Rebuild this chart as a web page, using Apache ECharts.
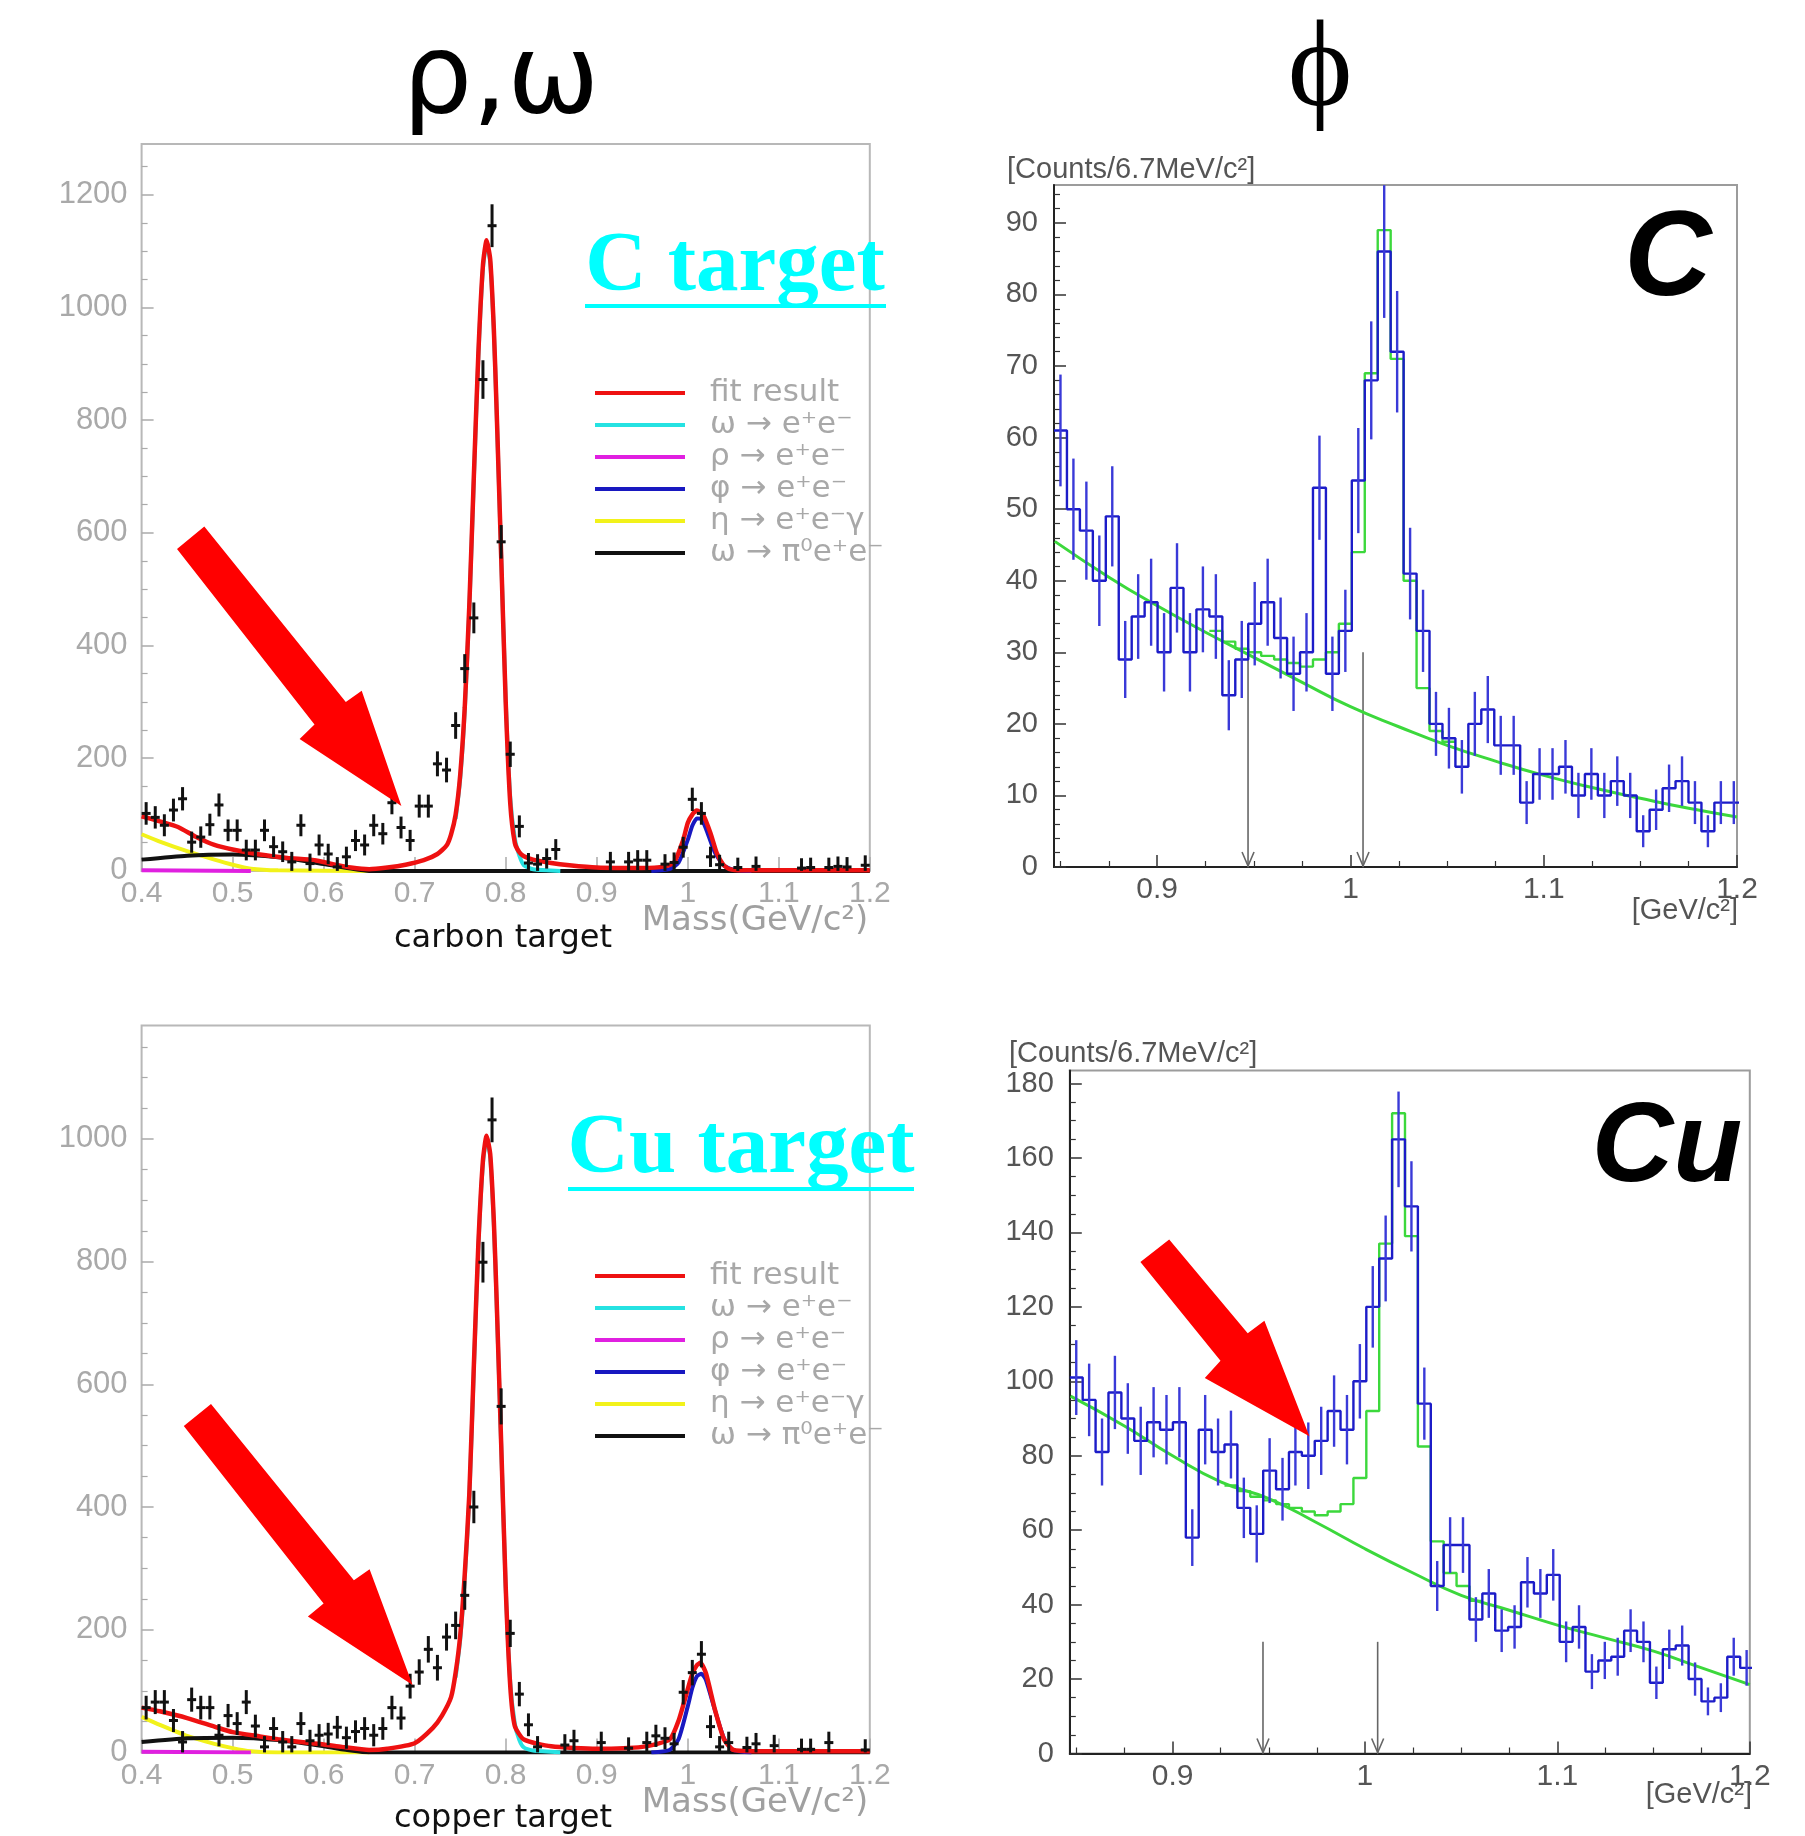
<!DOCTYPE html>
<html><head><meta charset="utf-8">
<script src="https://cdn.jsdelivr.net/npm/echarts@6/dist/echarts.min.js"></script>
<style>html,body{margin:0;padding:0;background:#fff}#c{width:1805px;height:1836px}</style>
</head><body><div id="c"></div><script>
// ---------------- DATA ----------------
// Left panels: dilepton mass points (GeV/c^2) and counts
const cMass = [0.405,0.415,0.425,0.435,0.445,0.455,0.465,0.475,0.485,0.495,0.505,0.515,0.525,0.535,0.545,0.555,0.565,0.575,0.585,0.595,0.605,0.615,0.625,0.635,0.645,0.655,0.665,0.675,0.685,0.695,0.705,0.715,0.725,0.735,0.745,0.755,0.765,0.775,0.785,0.795,0.805,0.815,0.825,0.835,0.845,0.855,
  0.915,0.935,0.945,0.955,0.975,0.985,0.995,1.005,1.015,1.025,1.035,1.055,1.075,1.125,1.135,1.155,1.165,1.175,1.195];
const cCounts = [102,95,81,108,128,51,60,82,117,72,72,37,37,72,43,34,16,81,13,46,30,7,25,54,46,81,66,121,77,54,115,115,190,179,258,359,449,872,1145,584,207,79,14,12,22,38,
  16,16,19,19,12,15,42,127,102,25,11,6,8,5,6,6,8,7,10];
const cuMass = [0.405,0.415,0.425,0.435,0.445,0.455,0.465,0.475,0.485,0.495,0.505,0.515,0.525,0.535,0.545,0.555,0.565,0.575,0.585,0.595,0.605,0.615,0.625,0.635,0.645,0.655,0.665,0.675,0.685,0.695,0.705,0.715,0.725,0.735,0.745,0.755,0.765,0.775,0.785,0.795,0.805,0.815,0.825,0.835,
  0.865,0.875,0.905,0.935,0.955,0.965,0.975,0.985,0.995,1.005,1.015,1.025,1.035,1.045,1.065,1.075,1.095,1.125,1.135,1.155,1.195];
const cuCounts = [73,82,82,52,17,86,73,73,28,60,47,82,43,9,39,17,9,47,19,28,30,41,24,34,39,28,39,73,56,108,131,168,138,188,207,256,400,799,1031,564,194,95,45,9,
  12,19,16,7,16,27,23,14,98,130,160,42,9,16,8,14,11,5,5,16,4];

// Left panels: fit curves (carbon)
const cFitX = [0.40,0.42,0.44,0.46,0.48,0.50,0.53,0.56,0.59,0.61,0.63,0.65,0.67,0.69,0.71,0.725,0.735,0.74,0.745,0.75,0.755,0.76,0.765,0.77,0.775,0.779,0.783,0.787,0.79,0.795,0.80,0.805,0.81,0.815,0.82,0.83,0.85,0.87,0.90,0.95,0.975,0.985,0.995,1.0,1.005,1.01,1.017,1.025,1.032,1.039,1.046,1.06,1.2];
const cFitY = [97,88,78,60,46,38,29,23,19,12,6,3,6,11,19,30,45,65,100,170,290,470,700,920,1075,1119,1085,960,820,560,300,120,50,33,26,20,14,10,6,5,8,15,55,85,100,107,99,67,31,11,3,1,1];
const cOmegaX = [0.745,0.75,0.755,0.76,0.765,0.77,0.775,0.779,0.783,0.787,0.79,0.795,0.80,0.805,0.81,0.815,0.82,0.83,0.86];
const cOmegaY = [92,163,284,464,694,914,1069,1113,1080,957,818,560,305,130,58,27,10,3,0];
const cRhoX = [0.40,0.52];
const cRhoY = [1,0];
const cPhiX = [0.96,0.98,0.99,1.0,1.005,1.01,1.015,1.02,1.03,1.04,1.05,1.07];
const cPhiY = [0,3,15,55,80,93,92,75,32,9,2,0];
const cEtaX = [0.40,0.42,0.45,0.48,0.50,0.52,0.55,0.65];
const cEtaY = [65,52,35,20,11,4,1,0];
const cDalitzX = [0.40,0.45,0.50,0.55,0.60,0.63,0.65,1.2];
const cDalitzY = [20,27,29,24,12,4,0,0];

// Left panels: fit curves (copper)
const cuFitX = [0.40,0.42,0.45,0.48,0.50,0.53,0.55,0.58,0.60,0.62,0.65,0.67,0.70,0.72,0.73,0.74,0.745,0.75,0.755,0.76,0.765,0.77,0.775,0.779,0.783,0.787,0.79,0.795,0.80,0.805,0.81,0.82,0.85,0.90,0.95,0.98,0.99,1.0,1.005,1.01,1.014,1.02,1.03,1.04,1.05,1.07,1.2];
const cuFitY = [73,67,56,42,33,26,21.5,16,13,9,4,6,15,40,60,90,130,190,290,420,630,830,965,1005,975,865,740,505,270,108,43,21,10,6,9,21,52,103,128,142,146,129,69,21,4,2,2];
const cuOmegaX = [0.745,0.75,0.755,0.76,0.765,0.77,0.775,0.779,0.783,0.787,0.79,0.795,0.80,0.805,0.81,0.815,0.82,0.83,0.86];
const cuOmegaY = [122,183,283,414,624,824,960,1000,970,860,735,502,270,114,47,20,8,3,0];
const cuRhoX = [0.40,0.52];
const cuRhoY = [1,0];
const cuPhiX = [0.96,0.98,0.99,1.0,1.005,1.01,1.015,1.02,1.03,1.04,1.05,1.07];
const cuPhiY = [0,4,22,75,105,124,128,118,68,22,4,0];
const cuEtaX = [0.40,0.42,0.45,0.48,0.50,0.52,0.55,0.65];
const cuEtaY = [58,45,27,14,7,2,0,0];
const cuDalitzX = [0.40,0.45,0.50,0.55,0.60,0.63,0.65,1.2];
const cuDalitzY = [17,23,24,20,10,3,0,0];

// Right panels: phi-region histograms (6.7 MeV bins)
const phiBinStart = 0.8466;
const phiBinWidth = 0.0067;
const cPhiHist = [61,50,47,40,49,29,35,37,30,39,30,36,35,24,29,34,37,32,27,30,53,27,33,54,68,86,72,41,33,20,18,14,20,22,17,17,9,13,13,14,10,13,10,12,10,5,8,11,12,9,5,9,9];
const cuPhiHist = [101,95,81,97,90,84,89,87,89,58,87,81,83,66,59,76,71,81,80,84,92,87,100,120,133,165,147,94,45,56,56,36,43,33,34,46,43,48,30,34,22,25,26,33,30,19,28,29,20,14,15,26,23];
// fitted (green) histogram in the peak region, starting at bin index below
const cFitHistStart = 12;
const cFitHist = [33,31.5,30.5,30,29.5,29,28.5,28,29,30,34,44,69,89,71,40,25,19,17.5];
const cuFitHistStart = 12;
const cuFitHist = [72,70.5,69,68,67,66,65,64,65,67,74,92,137,172,139,82.5,57,48.5,45,41];
// smooth background curves
const cBgX = [0.847,0.875,0.9,0.925,0.95,0.975,1.0,1.025,1.05,1.075,1.1,1.125,1.15,1.175,1.2];
const cBgY = [45.5,40.5,36.5,32.8,29.3,25.8,22.4,19.6,17.0,14.8,12.8,11.1,9.6,8.2,7.0];
const cuBgX = [0.847,0.875,0.9,0.925,0.95,0.975,1.0,1.025,1.05,1.075,1.1,1.125,1.15,1.175,1.2];
const cuBgY = [96,88,80,73,68.5,62,55,48.5,42.5,38.5,34.5,31,27.5,23,18.5];
// mass-window arrows
const cArrowX = [0.947,1.0065];
const cArrowTop = [30,30];
const cuArrowX = [0.947,1.0066];
const cuArrowTop = [30,30];

// Tick labels
const leftXLabels = [0.4,0.5,0.6,0.7,0.8,0.9,1.0,1.1,1.2];
const tlYLabels = [0,200,400,600,800,1000,1200];
const blYLabels = [0,200,400,600,800,1000];
const rightXLabels = [0.9,1.0,1.1,1.2];
const rightXMinor = [0.85,0.875,0.925,0.95,0.975,1.025,1.05,1.075,1.125,1.15,1.175];
const trYLabels = [0,10,20,30,40,50,60,70,80,90];
const brYLabels = [0,20,40,60,80,100,120,140,160,180];
const legendNames = ['fit result','ω → e⁺e⁻','ρ → e⁺e⁻','φ → e⁺e⁻','η → e⁺e⁻γ','ω → π⁰e⁺e⁻'];

// ---------------- LAYOUT ----------------
const G = [
  {left:141.6, top:144, width:728.2, height:726.9},   // carbon, rho/omega
  {left:1054, top:185, width:683, height:682},        // carbon, phi
  {left:141.6, top:1025.4, width:728.2, height:727},  // copper, rho/omega
  {left:1069.8, top:1070.5, width:680, height:683}    // copper, phi
];
const XR = [[0.4,1.2],[phiBinStart,1.2],[0.4,1.2],[phiBinStart,1.2]];
const YR = [[0,1290],[0,95.3],[0,1185],[0,183.5]];

function rangeVals(a,b,s,skip){const r=[];for(let v=a;v<=b+1e-9;v+=s){const q=Math.round(v*1000)/1000;if(!skip||!skip.some(k=>Math.abs(k-q)<1e-6))r.push(q);}return r;}
const fmt = v => String(Math.round(v*100)/100);

const xAxes = [], yAxes = [];
for (let g=0; g<4; g++){
  const left = (g%2===0);
  xAxes.push({type:'value', gridIndex:g, min:XR[g][0], max:XR[g][1], position:'bottom',
    axisLine:{show:!left, onZero:false, lineStyle:{color:'#222', width:2}},
    axisTick:{show:true, inside:true, length:left?14:12, customValues:left?leftXLabels:rightXLabels, lineStyle:{color:left?'#aaa':'#333', width:1.5}},
    axisLabel:{show:true, customValues:left?leftXLabels:rightXLabels, margin:8, color:left?'#a9a9a9':'#555', fontSize:30, fontFamily:'Liberation Sans', formatter:fmt},
    splitLine:{show:false}});
  const yl = [tlYLabels, trYLabels, blYLabels, brYLabels][g];
  yAxes.push({type:'value', gridIndex:g, min:YR[g][0], max:YR[g][1], position:'left',
    axisLine:{show:!left, onZero:false, lineStyle:{color:'#222', width:2}},
    axisTick:{show:true, inside:true, length:12, customValues:yl, lineStyle:{color:left?'#aaa':'#333', width:1.5}},
    axisLabel:{show:true, customValues:yl, margin:left?14:16, color:left?'#a9a9a9':'#555', fontSize:left?31:29, fontFamily:'Liberation Sans', formatter:fmt},
    splitLine:{show:false}});
}
const yMinor = [rangeVals(0,1290,50,tlYLabels), rangeVals(0,95,2,trYLabels), rangeVals(0,1185,50,blYLabels), rangeVals(0,183,5,brYLabels)];
for (let g=0; g<4; g++){
  const left = (g%2===0);
  xAxes.push({type:'value', gridIndex:g, min:XR[g][0], max:XR[g][1], position:'bottom',
    axisLine:{show:false}, axisLabel:{show:false}, splitLine:{show:false},
    axisTick:{show:!left, inside:true, length:6, customValues:rightXMinor, lineStyle:{color:'#333', width:1.2}}});
  yAxes.push({type:'value', gridIndex:g, min:YR[g][0], max:YR[g][1], position:'left',
    axisLine:{show:false}, axisLabel:{show:false}, splitLine:{show:false},
    axisTick:{show:true, inside:true, length:6, customValues:yMinor[g], lineStyle:{color:left?'#aaa':'#333', width:1.2}}});
}

// ---------------- SERIES ----------------
const zip = (xs,ys) => xs.map((x,i)=>[x,ys[i]]);
function curve(g, name, xs, ys, color, w, z){
  return {type:'line', name, xAxisIndex:g, yAxisIndex:g, data:zip(xs,ys), color, showSymbol:false, symbol:'none',
    smooth:0.2, lineStyle:{color, width:w}, z, silent:true};
}
function crosses(g, mass, counts){
  return {type:'custom', xAxisIndex:g, yAxisIndex:g, z:6, silent:true,
    data: mass.map((m,i)=>[m, counts[i]]),
    renderItem:(p,api)=>{
      const x=api.value(0), y=api.value(1), e=Math.sqrt(y+300);
      const c=api.coord([x,y]), t=api.coord([x,y+e]), b=api.coord([x,Math.max(0,y-e)]);
      return {type:'group', children:[
        {type:'line', shape:{x1:c[0],y1:t[1],x2:c[0],y2:b[1]}, style:{stroke:'#111',lineWidth:3}},
        {type:'line', shape:{x1:c[0]-4.5,y1:c[1],x2:c[0]+4.5,y2:c[1]}, style:{stroke:'#111',lineWidth:3}}
      ]};
    }};
}
function stepHist(g, start, counts, color, w, z){
  const d = counts.map((v,i)=>[phiBinStart+(start+i)*phiBinWidth, v]);
  d.push([phiBinStart+(start+counts.length)*phiBinWidth, counts[counts.length-1]]);
  return {type:'line', xAxisIndex:g, yAxisIndex:g, data:d, step:'end', showSymbol:false, symbol:'none',
    lineStyle:{color, width:w}, z, silent:true};
}
function histErr(g, counts, color){
  return {type:'custom', xAxisIndex:g, yAxisIndex:g, z:5, silent:true,
    data: counts.map((v,i)=>[phiBinStart+(i+0.5)*phiBinWidth, v]),
    renderItem:(p,api)=>{
      const x=api.value(0), v=api.value(1), e=Math.sqrt(v);
      if (x>1.2) return null;
      const a=api.coord([x,v+e]), b=api.coord([x,Math.max(0,v-e)]);
      return {type:'line', shape:{x1:a[0],y1:a[1],x2:b[0],y2:b[1]}, style:{stroke:color, lineWidth:2.4}};
    }};
}
function arrows(g, xs, tops){
  return {type:'custom', xAxisIndex:g, yAxisIndex:g, z:2, silent:true,
    data: xs.map((x,i)=>[x,tops[i]]),
    renderItem:(p,api)=>{
      const t=api.coord([api.value(0),api.value(1)]), b=api.coord([api.value(0),0]);
      return {type:'group', children:[
        {type:'line', shape:{x1:t[0],y1:t[1],x2:b[0],y2:b[1]}, style:{stroke:'#666',lineWidth:1.6}},
        {type:'polyline', shape:{points:[[b[0]-6,b[1]-15],[b[0],b[1]-1],[b[0]+6,b[1]-15]]}, style:{stroke:'#666',lineWidth:1.6,fill:null}}
      ]};
    }};
}
const RED='#ee1111', CYAN='#25e2e2', MAG='#e020e0', BLUE='#1818c0', YEL='#f2f21a', BLK='#111111';
const series = [
  curve(0, legendNames[4], cEtaX, cEtaY, YEL, 4, 2),
  curve(0, legendNames[5], cDalitzX, cDalitzY, BLK, 4, 2),
  curve(0, legendNames[2], cRhoX, cRhoY, MAG, 4, 2),
  curve(0, legendNames[1], cOmegaX, cOmegaY, CYAN, 4, 2),
  curve(0, legendNames[3], cPhiX, cPhiY, BLUE, 4, 2),
  curve(0, legendNames[0], cFitX, cFitY, RED, 4.5, 3),
  crosses(0, cMass, cCounts),
  curve(2, legendNames[4], cuEtaX, cuEtaY, YEL, 4, 2),
  curve(2, legendNames[5], cuDalitzX, cuDalitzY, BLK, 4, 2),
  curve(2, legendNames[2], cuRhoX, cuRhoY, MAG, 4, 2),
  curve(2, legendNames[1], cuOmegaX, cuOmegaY, CYAN, 4, 2),
  curve(2, legendNames[3], cuPhiX, cuPhiY, BLUE, 4, 2),
  curve(2, legendNames[0], cuFitX, cuFitY, RED, 4.5, 3),
  crosses(2, cuMass, cuCounts),
  arrows(1, cArrowX, cArrowTop),
  {type:'line', xAxisIndex:1, yAxisIndex:1, data:zip(cBgX,cBgY), smooth:true, showSymbol:false, symbol:'none', lineStyle:{color:'#3cd83c', width:3}, z:3, silent:true},
  stepHist(1, cFitHistStart, cFitHist, '#3cd83c', 2.4, 3),
  stepHist(1, 0, cPhiHist, '#1c1cc8', 2.4, 4),
  histErr(1, cPhiHist, '#3a3ad8'),
  arrows(3, cuArrowX, cuArrowTop),
  {type:'line', xAxisIndex:3, yAxisIndex:3, data:zip(cuBgX,cuBgY), smooth:true, showSymbol:false, symbol:'none', lineStyle:{color:'#3cd83c', width:3}, z:3, silent:true},
  stepHist(3, cuFitHistStart, cuFitHist, '#3cd83c', 2.4, 3),
  stepHist(3, 0, cuPhiHist, '#1c1cc8', 2.4, 4),
  histErr(3, cuPhiHist, '#3a3ad8')
];

function legendAt(top){
  return {show:true, orient:'vertical', left:595, top, padding:0, itemGap:0, itemWidth:90, itemHeight:4, icon:'rect',
    selectedMode:false, data:legendNames,
    textStyle:{color:'#a8a8a8', fontSize:31, fontFamily:'DejaVu Sans', lineHeight:32, padding:[0,0,0,20]}};
}
function txt(x,y,text,font,fill,align){
  return {type:'text', x, y, z:50, silent:true, style:{text, font, fill, textAlign:align||'center', textVerticalAlign:'middle'}};
}
function arrowPoly(pts){ return {type:'polygon', z:60, silent:true, shape:{points:pts}, style:{fill:'#ff0000'}}; }

const graphic = [
  txt(501, 83, 'ρ,ω', '110px "DejaVu Sans"', '#000'),
  txt(1320, 73, 'ϕ', '123px "Liberation Serif"', '#000'),
  txt(735, 268, 'C target', 'bold 85px "Liberation Serif"', '#00ffff'),
  {type:'rect', z:50, silent:true, shape:{x:585, y:304, width:301, height:4}, style:{fill:'#00ffff'}},
  txt(741, 1150, 'Cu target', 'bold 85px "Liberation Serif"', '#00ffff'),
  {type:'rect', z:50, silent:true, shape:{x:568, y:1187, width:346, height:4}, style:{fill:'#00ffff'}},
  txt(1668, 262, 'C', 'italic bold 121px "Liberation Sans"', '#000'),
  txt(1667, 1150, 'Cu', 'italic bold 113px "Liberation Sans"', '#000'),
  txt(503, 939, 'carbon target', '32px "DejaVu Sans"', '#111'),
  txt(755, 921, 'Mass(GeV/c²)', '34px "DejaVu Sans"', '#a0a0a0'),
  txt(503, 1819, 'copper target', '32px "DejaVu Sans"', '#111'),
  txt(755, 1803, 'Mass(GeV/c²)', '34px "DejaVu Sans"', '#a0a0a0'),
  txt(1007, 170, '[Counts/6.7MeV/c²]', '29px "Liberation Sans"', '#555', 'left'),
  txt(1009, 1054, '[Counts/6.7MeV/c²]', '29px "Liberation Sans"', '#555', 'left'),
  txt(1738, 911, '[GeV/c²]', '29px "Liberation Sans"', '#555', 'right'),
  txt(1752, 1795, '[GeV/c²]', '29px "Liberation Sans"', '#555', 'right'),
  arrowPoly([[204.3,526.4],[345.8,702.0],[361.7,690.8],[401.4,806.0],[299.6,739.0],[314.5,724.5],[177.0,548.9]]),
  arrowPoly([[211.0,1403.9],[353.9,1580.3],[369.6,1569.2],[412.6,1685.1],[307.9,1616.6],[323.6,1603.4],[183.8,1426.0]]),
  arrowPoly([[1169.2,1239.6],[1247.7,1333.2],[1264.4,1320.7],[1309.4,1436.2],[1204.8,1378.0],[1220.5,1360.8],[1140.4,1261.9]])
];

const option = {
  animation:false,
  backgroundColor:'#ffffff',
  grid: G.map((g,i)=>Object.assign({}, g, {show:true, borderColor:(i%2)?'#9c9c9c':'#b8b8b8', borderWidth:2, backgroundColor:'transparent', containLabel:false, outerBoundsMode:'none'})),
  xAxis: xAxes,
  yAxis: yAxes,
  legend: [legendAt(377), legendAt(1260)],
  series,
  graphic
};
const chart = echarts.init(document.getElementById('c'), null, {renderer:'canvas', width:1805, height:1836});
chart.setOption(option);
</script></body></html>
